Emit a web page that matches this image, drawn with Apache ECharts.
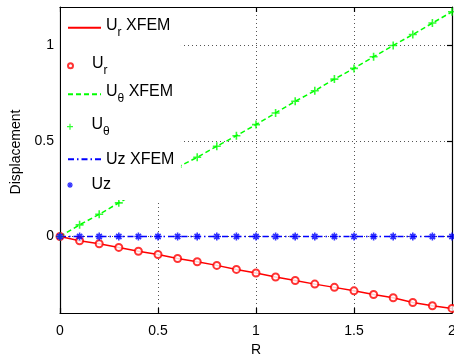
<!DOCTYPE html>
<html><head><meta charset="utf-8">
<script src="https://cdn.jsdelivr.net/npm/echarts@6/dist/echarts.min.js"></script>
<style>html,body{margin:0;padding:0;background:#fff}#c{width:454px;height:358px}</style>
</head><body><div id="c"></div>
<script>
var xs = [0,0.1,0.2,0.3,0.4,0.5,0.6,0.7,0.8,0.9,1.0,1.1,1.2,1.3,1.4,1.5,1.6,1.7,1.8,1.9,2.0];
var ur = [0,-0.022,-0.038,-0.057,-0.077,-0.094,-0.115,-0.132,-0.151,-0.172,-0.191,-0.212,-0.230,-0.249,-0.266,-0.284,-0.303,-0.320,-0.345,-0.362,-0.376];
var uth = [0,0.061,0.116,0.176,0.235,0.294,0.362,0.414,0.472,0.527,0.585,0.646,0.707,0.762,0.823,0.879,0.940,0.999,1.056,1.116,1.175];
var uz = [0,0,0,0,0,0,0,0,0,0,0,0,0,0,0,0,0,0,0,0,0];
var xTicks = [0,0.5,1,1.5,2];
var yTicks = [0,0.5,1];
var names = ['Ur XFEM','Ur','Uth XFEM','Uth','Uz XFEM','Uz'];
var labels = {
  'Ur XFEM': '{m|U}{s|r}{m| XFEM}',
  'Ur': '{m|U}{s|r}',
  'Uth XFEM': '{m|U}{s|θ}{m| XFEM}',
  'Uth': '{m|U}{s|θ}',
  'Uz XFEM': '{m|Uz XFEM}',
  'Uz': '{m|Uz}'
};
function pairs(y){ return xs.map(function(x,i){ return [x,y[i]]; }); }
var FONT = 'Liberation Sans, Arial, Helvetica, sans-serif';
var plusPath = 'path://M4,0H6V4H10V6H6V10H4V6H0V4H4Z';
var starPath = 'path://M4,0H6V10H4Z M0,4H10V6H0Z M1,2.4L2.4,1L9,7.6L7.6,9Z M7.6,1L9,2.4L2.4,9L1,7.6Z M2,2H8V8H2Z';

var rich = {
  m: {fontSize: 16, fontFamily: FONT, color: '#000', lineHeight: 16, verticalAlign: 'top'},
  s: {fontSize: 12, fontFamily: FONT, color: '#000', lineHeight: 21, verticalAlign: 'bottom'}
};
var legendTops = [17.2, 55.2, 83.8, 116.2, 151.3, 177];
var legendH = [14, 5, 14, 6, 14, 6];
var isLine = [true, false, true, false, true, false];
var legends = names.map(function(n,i){
  var l = {
    data: [n], left: 67, top: legendTops[i], orient: 'vertical', z: 12,
    itemWidth: 33, itemHeight: legendH[i], itemGap: 0, padding: 0,
    selectedMode: false, symbolKeepAspect: true,
    formatter: function(name){ return labels[name]; },
    textStyle: {rich: rich, fontFamily: FONT, fontSize: 16, color: '#000'}
  };
  if (isLine[i]) l.itemStyle = {opacity: 0};
  if (i === 0) {
    l.left = 61; l.top = 8; l.z = 10;
    l.padding = [legendTops[0] - 8, 10.5, 192 - (legendTops[0] - 8) - 21, 6];
    l.backgroundColor = '#fff';
  }
  return l;
});

var axisLine = {onZero: false, lineStyle: {color: '#000', width: 1.2}};
var tickX = {inside: true, length: 5, lineStyle: {color: '#000', width: 1.2}};
var tickY = {inside: true, length: 5, lineStyle: {color: '#000', width: 1.2}, customValues: yTicks};
var gridLine = {show: true, lineStyle: {type: [1,3], color: '#555', width: 1}};

var option = {
  animation: false,
  backgroundColor: '#fff',
  grid: {left: 60, right: 2, top: 7, bottom: 45, containLabel: false, outerBoundsMode: 'none'},
  legend: legends,
  xAxis: [{
    type: 'value', min: 0, max: 2, interval: 0.5, position: 'bottom',
    name: 'R', nameLocation: 'middle', nameGap: 30,
    nameTextStyle: {fontFamily: FONT, fontSize: 14, color: '#000'},
    axisLine: axisLine, axisTick: tickX,
    axisLabel: {margin: 11, fontFamily: FONT, fontSize: 14, color: '#000', hideOverlap: false},
    splitLine: gridLine
  },{
    type: 'value', min: 0, max: 2, interval: 0.5, position: 'top',
    axisLine: axisLine, axisTick: tickX,
    axisLabel: {show: false}, splitLine: {show: false}
  }],
  yAxis: [{
    type: 'value', min: -0.4, max: 1.2, position: 'left',
    name: 'Displacement', nameLocation: 'middle', nameGap: 30,
    nameTextStyle: {fontFamily: FONT, fontSize: 14, color: '#000', padding: [0, 0, 0, 16]},
    axisLine: axisLine, axisTick: tickY,
    axisLabel: {margin: 6, fontFamily: FONT, fontSize: 14, color: '#000', customValues: yTicks},
    splitLine: gridLine
  },{
    type: 'value', min: -0.4, max: 1.2, position: 'right',
    axisLine: axisLine, axisTick: tickY,
    axisLabel: {show: false, customValues: yTicks}, splitLine: {show: false}
  }],
  series: [
    {name: 'Ur XFEM', type: 'line', z: 3, data: pairs(ur), symbol: 'none', color: '#ff0000',
     lineStyle: {color: '#ff0000', width: 1.5}},
    {name: 'Ur', type: 'scatter', z: 4, data: pairs(ur), symbol: 'emptyCircle', symbolSize: 7, color: '#ff0000',
     itemStyle: {color: '#ff0000', borderColor: '#ff0000', borderWidth: 1.2}},
    {name: 'Uth XFEM', type: 'line', z: 3, data: pairs(uth), symbol: 'none', color: '#00ff00',
     lineStyle: {color: '#00ff00', width: 1.5, type: [5,3]}},
    {name: 'Uth', type: 'scatter', z: 4, data: pairs(uth), symbol: plusPath, symbolSize: 8, color: '#00ff00',
     itemStyle: {color: '#00ff00'}},
    {name: 'Uz XFEM', type: 'line', z: 3, data: pairs(uz), symbol: 'none', color: '#0000ff',
     lineStyle: {color: '#0000ff', width: 1.5, type: [6,3,1.5,3]}},
    {name: 'Uz', type: 'scatter', z: 4, data: pairs(uz), symbol: starPath, symbolSize: 8, color: '#0000ff',
     itemStyle: {color: '#0000ff'}}
  ]
};
var chart = echarts.init(document.getElementById('c'), null, {renderer: 'canvas'});
chart.setOption(option);
</script></body></html>
